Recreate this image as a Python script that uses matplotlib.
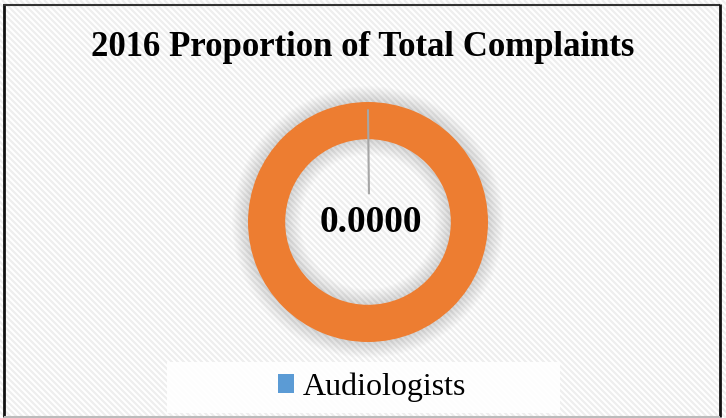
import numpy as np
import matplotlib
matplotlib.use("Agg")
import matplotlib.pyplot as plt
from matplotlib.patches import Wedge, Rectangle
from matplotlib.collections import LineCollection

# Chart data
title = "2016 Proportion of Total Complaints"
categories = ["Audiologists", "All other professions"]
values = [0.0, 1.0]
colors = ["#5B9BD5", "#ED7D31"]
label_value = values[0]

W, H = 726, 418
fig = plt.figure(figsize=(W / 100, H / 100), dpi=100)
serif = ["Liberation Serif", "DejaVu Serif"]

# Background layer in pixel coordinates (y downward)
bg = fig.add_axes([0, 0, 1, 1])
bg.set_xlim(0, W)
bg.set_ylim(H, 0)
bg.axis("off")

# light diagonal stripe texture inside the chart frame
segs = []
for c in np.arange(-H, W + H, 6.0):
    segs.append([(c, 0), (c + H, H)])
stripes = LineCollection(segs, colors="#eeeeee", linewidths=1.6, zorder=0)
stripes.set_clip_path(Rectangle((4, 5), 715, 411, transform=bg.transData))
bg.add_collection(stripes)

# frame
bg.plot([4, 4], [4, 417], color="#111111", lw=2.0, solid_capstyle="butt")
bg.plot([3, 720], [4.5, 4.5], color="#333333", lw=1.5, solid_capstyle="butt")
bg.plot([720, 720], [4, 417], color="#111111", lw=2.0, solid_capstyle="butt")
bg.plot([4, 720], [416.5, 416.5], color="#bbbbbb", lw=1.5, solid_capstyle="butt")

# legend panel
bg.add_patch(Rectangle((167, 362), 393, 51, facecolor="white", edgecolor="none",
                       alpha=0.9, zorder=2))

# Doughnut axes
cx, cy, R = 368, 222, 120
span = 1.3
ax = fig.add_axes([(cx - R * span) / W, (H - cy - R * span) / H,
                   2 * R * span / W, 2 * R * span / H])
ax.axis("off")
ax.patch.set_alpha(0)

ring_w = 0.31
# soft shadow around the ring
for i in range(12):
    d = 0.011 * (i + 1)
    ax.add_patch(Wedge((0, 0), 1 + d, 0, 360, width=ring_w + 2 * d,
                       facecolor="black", edgecolor="none", alpha=0.012, zorder=1))

wedges, _ = ax.pie(values, colors=colors, startangle=90, counterclock=False,
                   radius=1.0, wedgeprops=dict(width=ring_w, edgecolor="none"))
for w in wedges:
    w.set_zorder(3)
ax.set_xlim(-span, span)
ax.set_ylim(-span, span)
ax.set_aspect("equal")

# data label with leader line from the Audiologists wedge
theta = np.deg2rad(90 - 360 * (values[0] / 2) / sum(values))
r0, r1 = 0.93, 0.24
ax.plot([r0 * np.cos(theta), r1 * np.cos(theta) + 0.008],
        [r0 * np.sin(theta), r1 * np.sin(theta)],
        color="#a6a6a6", lw=1.5, zorder=4)
ax.text(0.02, -0.005, f"{label_value:.4f}", ha="center", va="center",
        fontsize=27, fontweight="bold", family=serif, zorder=5)

# title
fig.text(362.5 / W, 1 - 47 / H, title, ha="center", va="center",
         fontsize=25, fontweight="bold", family=serif)

# legend
fig.legend(handles=[wedges[0]], labels=[categories[0]],
           loc="center", bbox_to_anchor=(372 / W, 1 - 387 / H),
           frameon=False, handlelength=0.5, handleheight=0.5,
           handletextpad=0.3, prop=dict(family=serif, size=23))

fig.savefig("out.png", dpi=100)
